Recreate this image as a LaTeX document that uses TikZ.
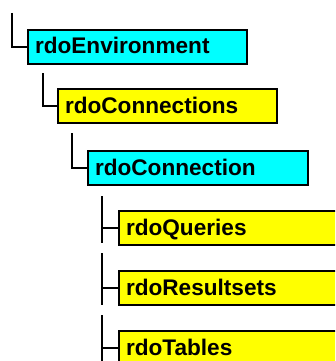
\documentclass[tikz,border=0pt]{standalone}
\usepackage{fontspec}
\setmainfont{Liberation Sans}
\definecolor{objcyan}{RGB}{0,255,255}
\definecolor{objyellow}{RGB}{255,255,0}
\begin{document}
\begin{tikzpicture}[x=1pt,y=-1pt,
  objbox/.style={draw=black, line width=2pt, anchor=north west,
    minimum height=34pt, inner xsep=7pt, inner ysep=0pt,
    text height=15pt, text depth=1pt,
    font=\fontsize{22.6}{26}\selectfont\bfseries},
  classbox/.style={objbox, fill=objcyan},
  collbox/.style={objbox, fill=objyellow},
  treeline/.style={draw=black, line width=2.6pt}]
  \clip (0,0) rectangle (335,361);

  % object hierarchy boxes
  \node[classbox, text width=205pt] (env)  at (27,29)  {rdoEnvironment};
  \node[collbox,  text width=205pt] (cons) at (57,88)  {rdoConnections};
  \node[classbox, text width=206pt] (con)  at (87,150) {rdoConnection};
  \node[collbox,  text width=230pt] (qry)  at (118,210) {rdoQueries};
  \node[collbox,  text width=230pt] (rs)   at (118,270) {rdoResultsets};
  \node[collbox,  text width=230pt] (tbl)  at (118,330) {rdoTables};

  % tree connectors
  \coordinate (r0) at (12,13);
  \coordinate (r1) at (43,73);
  \coordinate (r2) at (72,133);
  \coordinate (q0) at (102,196);
  \coordinate (q1) at (102,243);
  \coordinate (s0) at (102,253);
  \coordinate (s1) at (102,305);
  \coordinate (t0) at (102,315);
  \coordinate (t1) at (102,365);

  \draw[treeline] (r0) |- (env.west);
  \draw[treeline] (r1) |- (cons.west);
  \draw[treeline] (r2) |- (con.west);

  \draw[treeline] (q0) -- (q1);
  \draw[treeline] (q0 |- qry.west) -- (qry.west);
  \draw[treeline] (s0) -- (s1);
  \draw[treeline] (s0 |- rs.west) -- (rs.west);
  \draw[treeline] (t0) -- (t1);
  \draw[treeline] (t0 |- tbl.west) -- (tbl.west);
\end{tikzpicture}
\end{document}
